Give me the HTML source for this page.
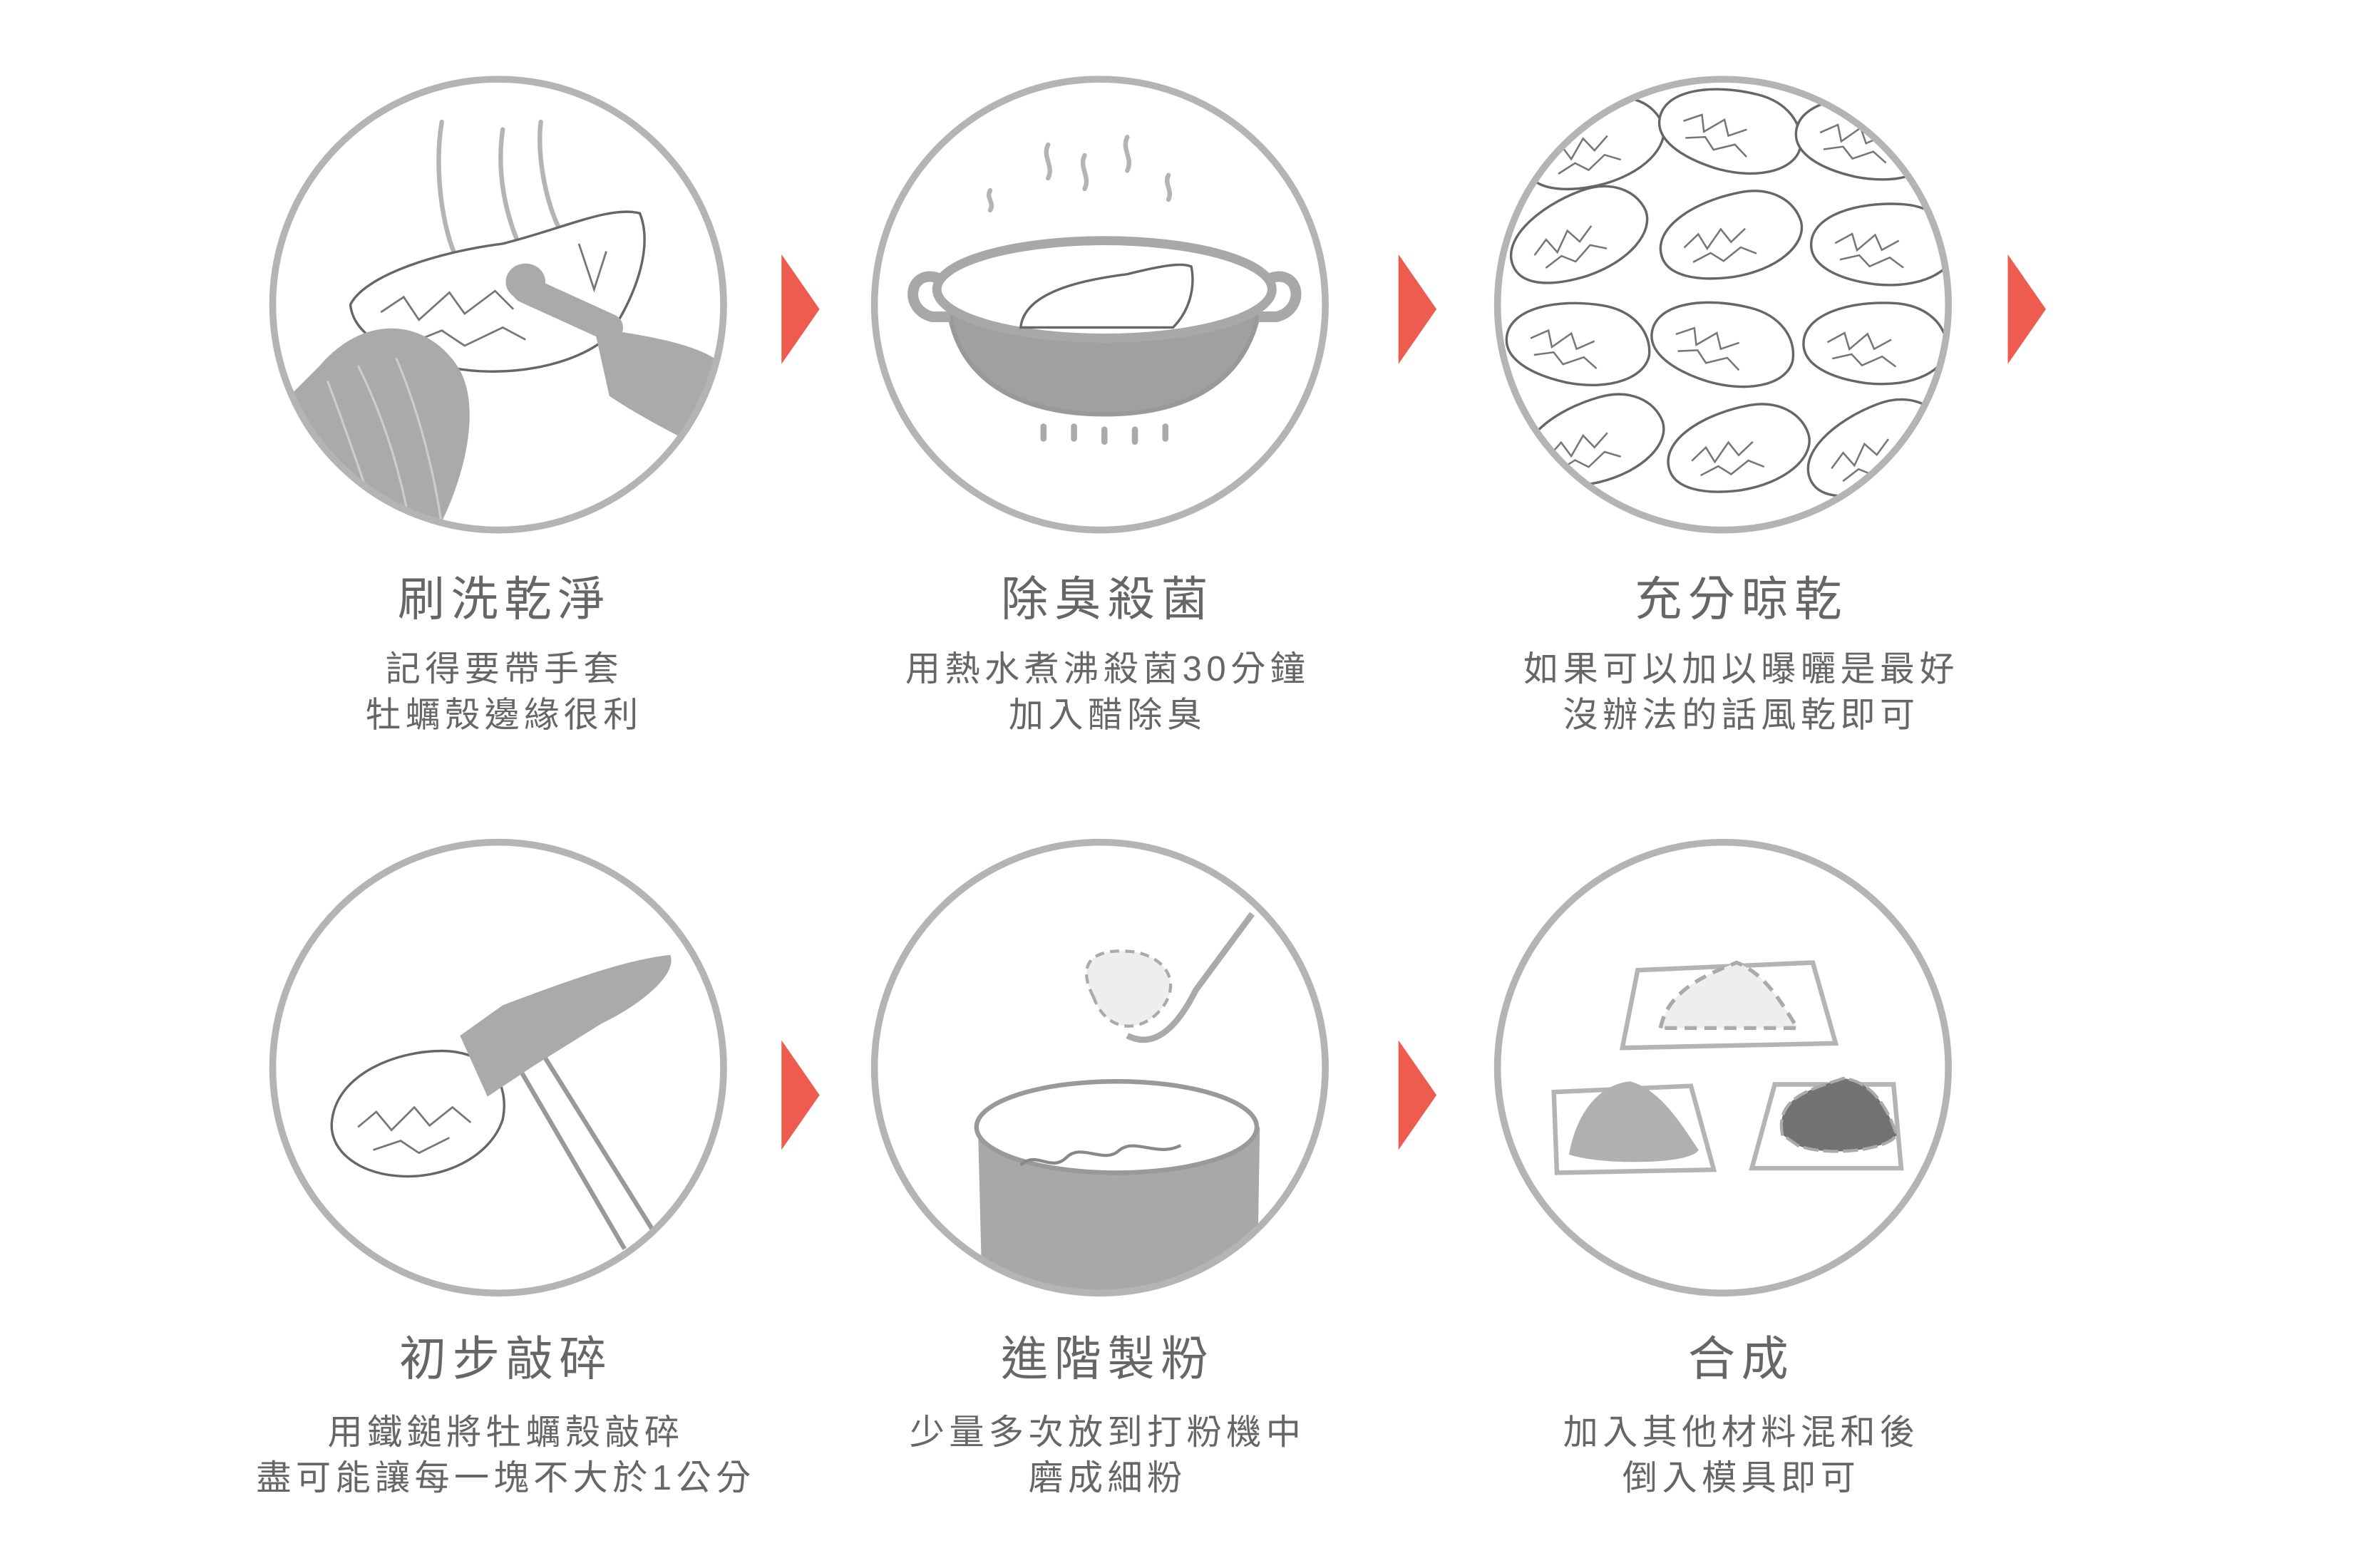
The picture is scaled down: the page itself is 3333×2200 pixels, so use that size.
<!DOCTYPE html>
<html><head><meta charset="utf-8"><style>
html,body{margin:0;padding:0;background:#fff}
svg{display:block}
.t{font-family:"Liberation Sans","Noto Sans CJK TC",sans-serif;fill:#666;text-anchor:middle}
.h{font-size:31px;letter-spacing:4px}
.s{font-size:23px;letter-spacing:3px}
.c{fill:none;stroke:#b4b4b4;stroke-width:4.5}
.o{fill:#fff;stroke:#666;stroke-width:1.6}
.l{fill:none;stroke:#b4b4b4;stroke-width:3;stroke-linecap:round}
</style></head><body>
<svg width="3333" height="2200" viewBox="0 0 1559.7 1029.5" xmlns="http://www.w3.org/2000/svg">
<defs>
<clipPath id="c1"><circle cx="327" cy="200" r="146"/></clipPath>
<clipPath id="c3"><circle cx="1131" cy="200" r="146"/></clipPath>
<clipPath id="c5"><circle cx="722" cy="701" r="146"/></clipPath>
<g id="oy"><path class="o" d="M-45,10 C-50,-10 -20,-25 10,-28 C30,-30 45,-20 48,-5 C50,10 30,25 0,27 C-25,28 -42,22 -45,10Z"/><path d="M-30,5 l10,-8 l5,10 l10,-12 l6,9 l10,-8 M-25,15 l12,-5 l8,6 l12,-8 l10,5" fill="none" stroke="#777" stroke-width="1.2"/></g>
</defs>
<!-- arrows -->
<g fill="#ee5b4f">
<polygon points="513,167 538,203 513,239"/>
<polygon points="918,167 943,203 918,239"/>
<polygon points="1318,167 1343,203 1318,239"/>
<polygon points="513,683 538,719 513,755"/>
<polygon points="918,683 943,719 918,755"/>
</g>
<!-- ill 1 -->
<g clip-path="url(#c1)">
<path class="l" d="M290,80 C285,110 290,150 300,170 M330,85 C325,120 335,150 345,170 M355,80 C352,105 360,140 370,155" stroke="#ccc"/>
<path class="o" d="M230,200 C240,180 290,165 330,160 C370,150 400,135 420,140 C428,160 420,190 400,220 C380,240 330,250 290,240 C255,232 232,220 230,200Z"/>
<path d="M250,205 l15,-10 l10,15 l20,-18 l10,14 l20,-15 l12,12 M270,225 l20,-8 l15,10 l25,-12 l15,8 M380,160 l10,30 l8,-25" fill="none" stroke="#777" stroke-width="1.3"/>
<ellipse cx="345" cy="185" rx="13" ry="12" fill="#aaa"/>
<path d="M345,190 L400,215" stroke="#aaa" stroke-width="18" stroke-linecap="round"/>
<path d="M210,240 C240,205 280,210 300,240 C320,270 300,330 280,360 L180,360 L190,260Z" fill="#aaa"/>
<path d="M390,215 C420,220 460,225 475,240 L470,300 C455,290 430,280 400,260Z" fill="#aaa"/>
<path d="M215,250 C230,290 240,320 250,350 M235,240 C255,280 265,320 270,350 M260,235 C275,270 285,310 290,345" stroke="#ccc" stroke-width="1.5" fill="none"/>
</g>
<!-- ill 2 -->
<path class="l" d="M688,95 c-4,8 4,14 0,22 M712,102 c-4,8 4,14 0,22 M740,90 c-4,8 4,14 0,22 M650,125 c-3,5 3,8 0,13 M767,115 c-3,6 3,10 0,16" stroke="#b4b4b4"/>
<path d="M622,195 C625,250 670,272 725,272 C780,272 822,250 828,195Z" fill="#a0a0a0" stroke="#999" stroke-width="3"/>
<ellipse cx="725" cy="190" rx="110" ry="32" fill="#fff" stroke="#a8a8a8" stroke-width="6"/>
<path d="M617,183 c-20,-8 -25,20 -5,25 l12,0" fill="none" stroke="#a8a8a8" stroke-width="7"/>
<path d="M833,183 c20,-8 25,20 5,25 l-12,0" fill="none" stroke="#a8a8a8" stroke-width="7"/>
<path class="o" d="M670,215 C672,195 700,185 740,180 C760,175 775,172 782,175 C785,190 780,205 770,215Z"/>
<path d="M685,280 v8 M705,280 v8 M725,282 v8 M745,282 v8 M765,280 v8" stroke="#aaa" stroke-width="4" stroke-linecap="round"/>
<!-- ill 3 -->
<g clip-path="url(#c3)">
<use href="#oy" transform="translate(1045,95) rotate(-10)"/>
<use href="#oy" transform="translate(1135,85) rotate(20)"/>
<use href="#oy" transform="translate(1225,90) rotate(15)"/>
<use href="#oy" transform="translate(1035,155) rotate(-15)"/>
<use href="#oy" transform="translate(1135,155) rotate(-5)"/>
<use href="#oy" transform="translate(1235,160) rotate(10)"/>
<use href="#oy" transform="translate(1035,225) rotate(15)"/>
<use href="#oy" transform="translate(1130,225) rotate(20)"/>
<use href="#oy" transform="translate(1230,225) rotate(10)"/>
<use href="#oy" transform="translate(1045,290) rotate(-10)"/>
<use href="#oy" transform="translate(1140,295) rotate(-5)"/>
<use href="#oy" transform="translate(1230,295) rotate(-15)"/>
</g>
<!-- ill 4 -->
<path class="o" d="M218,735 C222,705 260,690 290,690 C320,690 335,710 330,735 C322,760 290,775 260,772 C235,770 215,755 218,735Z"/>
<path d="M235,740 l12,-10 l10,12 l15,-15 l10,12 l15,-12 l12,10 M245,755 l18,-6 l12,8 l20,-10" fill="none" stroke="#777" stroke-width="1.3"/>
<path d="M340,700 L410,820 M355,690 L430,810" stroke="#999" stroke-width="3"/>
<path d="M302,680 L330,660 C370,645 410,630 440,627 C445,640 420,660 395,672 L350,700 L320,720Z" fill="#aaa"/>
<!-- ill 5 -->
<g clip-path="url(#c5)">
<path d="M718,655 C705,630 720,622 745,625 C770,630 775,650 760,665 C745,680 725,675 718,655Z" fill="#eee" stroke="#aaa" stroke-width="2" stroke-dasharray="6 4"/>
<path d="M740,680 C760,690 775,670 785,650 L822,600" stroke="#aaa" stroke-width="4" fill="none"/>
<path d="M642,740 L645,860 L825,860 L827,740Z" fill="#a8a8a8"/>
<ellipse cx="733" cy="740" rx="92" ry="30" fill="#fff" stroke="#999" stroke-width="3"/>
<path d="M670,765 c10,-10 20,5 30,-5 c10,-10 25,5 35,-5 c10,-8 25,5 40,-3" stroke="#888" fill="none" stroke-width="2"/>
</g>
<!-- ill 6 -->
<path class="l" d="M1075,637 L1190,632 L1205,685 L1065,688Z"/>
<path d="M1090,675 C1095,650 1120,640 1140,632 C1160,640 1170,660 1180,675Z" fill="#eee" stroke="#aaa" stroke-width="2.5" stroke-dasharray="8 5"/>
<path class="l" d="M1020,717 L1110,713 L1125,768 L1022,770Z"/>
<path d="M1030,758 C1035,730 1050,712 1070,710 C1090,715 1105,740 1115,755 C1110,765 1050,765 1030,758Z" fill="#b0b0b0"/>
<path class="l" d="M1165,712 L1243,712 L1248,767 L1150,767Z"/>
<path d="M1170,745 C1165,720 1190,715 1210,708 C1230,710 1240,730 1245,745 C1240,755 1200,760 1180,752Z" fill="#727272" stroke="#aaa" stroke-width="2" stroke-dasharray="10 3"/>
<!-- circles -->
<circle class="c" cx="327" cy="200" r="148"/>
<circle class="c" cx="722" cy="200" r="148"/>
<circle class="c" cx="1131" cy="200" r="148"/>
<circle class="c" cx="327" cy="701" r="148"/>
<circle class="c" cx="722" cy="701" r="148"/>
<circle class="c" cx="1131" cy="701" r="148"/>
<!-- text -->
<g class="t">
<text class="h" x="331" y="404">刷洗乾淨</text>
<text class="s" x="331" y="447">記得要帶手套</text>
<text class="s" x="331" y="477">牡蠣殼邊緣很利</text>
<text class="h" x="727" y="404">除臭殺菌</text>
<text class="s" x="727" y="447">用熱水煮沸殺菌30分鐘</text>
<text class="s" x="727" y="477">加入醋除臭</text>
<text class="h" x="1143" y="404">充分晾乾</text>
<text class="s" x="1143" y="447">如果可以加以曝曬是最好</text>
<text class="s" x="1143" y="477">沒辦法的話風乾即可</text>
<text class="h" x="332" y="903">初步敲碎</text>
<text class="s" x="332" y="948">用鐵鎚將牡蠣殼敲碎</text>
<text class="s" x="332" y="978">盡可能讓每一塊不大於1公分</text>
<text class="h" x="727" y="903">進階製粉</text>
<text class="s" x="727" y="948">少量多次放到打粉機中</text>
<text class="s" x="727" y="978">磨成細粉</text>
<text class="h" x="1143" y="903">合成</text>
<text class="s" x="1143" y="948">加入其他材料混和後</text>
<text class="s" x="1143" y="978">倒入模具即可</text>
</g>
</svg>
</body></html>
